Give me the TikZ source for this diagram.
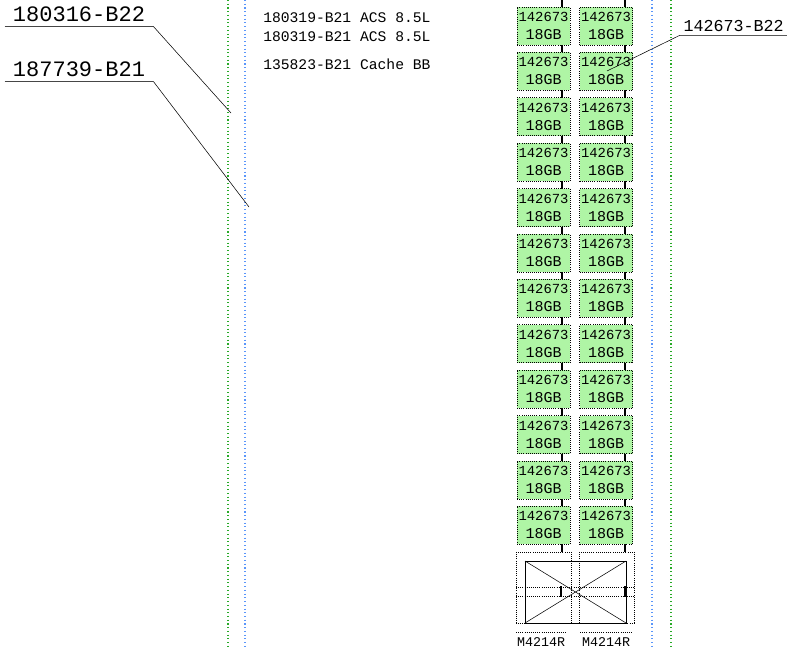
\documentclass[tikz,border=0pt]{standalone}
\usepackage{fontspec}
\setmonofont{Liberation Mono}
\usepackage{tikz}
\usetikzlibrary{positioning}
\definecolor{dimmgreen}{RGB}{175,245,165}
\definecolor{guidegreen}{RGB}{40,170,40}
\definecolor{guideblue}{RGB}{90,150,250}
\definecolor{leadgray}{RGB}{70,70,70}

\tikzset{
  dimm/.style={draw=black, densely dotted, line width=0.6pt, fill=dimmgreen,
    minimum width=39.75pt, minimum height=28.5pt, inner sep=0pt, align=center,
    font=\ttfamily\fontsize{10.4}{13.5}\selectfont},
  bus/.style={line width=1.3pt},
  guide/.style={dotted, line width=0.8pt},
  callout/.style={font=\ttfamily\fontsize{16.5}{16.5}\selectfont, text height=11.3pt,
    text depth=0pt, inner xsep=6pt, inner ysep=3.4pt},
  partline/.style={font=\ttfamily\fontsize{11}{11}\selectfont, anchor=west, inner sep=0pt},
  cpubox/.style={densely dotted, line width=0.6pt},
}
\newcommand{\dimmtxt}{142673\\{\fontsize{11.25}{13.5}\selectfont 18GB}}

\begin{document}
\begin{tikzpicture}[x=0.75pt, y=-0.75pt]
  \useasboundingbox (0,0) rectangle (787,648);

  % Guide lines
  \draw[guide, guidegreen] (228,0) -- (228,648);
  \draw[guide, guideblue] (245,0) -- (245,648);
  \draw[guide, guideblue] (652,0) -- (652,648);
  \draw[guide, guidegreen] (671,0) -- (671,648);

  % Part list
  \node[partline] (p1) at (263,18) {180319-B21 ACS 8.5L};
  \node[partline] (p2) at (263,37) {180319-B21 ACS 8.5L};
  \node[partline] (p3) at (263,64) {135823-B21 Cache BB};

  % Memory buses
  \coordinate (busatop) at (562,0);
  \coordinate (busabot) at (562,552);
  \coordinate (busbtop) at (625,0);
  \coordinate (busbbot) at (625,552);
  \draw[bus] (busatop) -- (busabot);
  \draw[bus] (busbtop) -- (busbbot);

  % DIMM slots
  \node[dimm] (m1a) at (543.5,26) {\dimmtxt};     \node[dimm] (m1b) at (606,26) {\dimmtxt};
  \node[dimm] (m2a) at (543.5,71.4) {\dimmtxt};   \node[dimm] (m2b) at (606,71.4) {\dimmtxt};
  \node[dimm] (m3a) at (543.5,116.8) {\dimmtxt};  \node[dimm] (m3b) at (606,116.8) {\dimmtxt};
  \node[dimm] (m4a) at (543.5,162.2) {\dimmtxt};  \node[dimm] (m4b) at (606,162.2) {\dimmtxt};
  \node[dimm] (m5a) at (543.5,207.6) {\dimmtxt};  \node[dimm] (m5b) at (606,207.6) {\dimmtxt};
  \node[dimm] (m6a) at (543.5,253) {\dimmtxt};    \node[dimm] (m6b) at (606,253) {\dimmtxt};
  \node[dimm] (m7a) at (543.5,298.4) {\dimmtxt};  \node[dimm] (m7b) at (606,298.4) {\dimmtxt};
  \node[dimm] (m8a) at (543.5,343.8) {\dimmtxt};  \node[dimm] (m8b) at (606,343.8) {\dimmtxt};
  \node[dimm] (m9a) at (543.5,389.2) {\dimmtxt};  \node[dimm] (m9b) at (606,389.2) {\dimmtxt};
  \node[dimm] (m10a) at (543.5,434.6) {\dimmtxt}; \node[dimm] (m10b) at (606,434.6) {\dimmtxt};
  \node[dimm] (m11a) at (543.5,480) {\dimmtxt};   \node[dimm] (m11b) at (606,480) {\dimmtxt};
  \node[dimm] (m12a) at (543.5,525.4) {\dimmtxt}; \node[dimm] (m12b) at (606,525.4) {\dimmtxt};

  % CPU sockets
  \draw[cpubox] (516,552) rectangle (571,623);
  \draw[cpubox] (579,552) rectangle (634,623);
  \draw[cpubox] (516,587) -- (634,587);
  \draw[cpubox] (516,596) -- (634,596);
  \draw (525,561) rectangle (626,623);
  \draw (525,561) -- (626,623);
  \draw (525,623) -- (626,561);
  \draw[bus] (561,586) -- (561,597);
  \draw[bus] (625,586) -- (625,597);
  \draw[cpubox] (516,632) -- (566,632);
  \draw[cpubox] (580,632) -- (633,632);
  \node[font=\ttfamily\fontsize{10}{10}\selectfont, inner sep=0pt] (cpua) at (541,642) {M4214R};
  \node[font=\ttfamily\fontsize{10}{10}\selectfont, inner sep=0pt] (cpub) at (606,642) {M4214R};

  % Callouts
  \node[callout] (c1) at (79,14) {180316-B22};
  \coordinate (t1) at (231,113);
  \draw[leadgray, line width=1pt] (c1.south west) -- (c1.south east);
  \draw (c1.south east) -- (t1);

  \node[callout] (c2) at (79,69) {187739-B21};
  \coordinate (t2) at (249,207);
  \draw[leadgray, line width=1pt] (c2.south west) -- (c2.south east);
  \draw (c2.south east) -- (t2);

  \node[callout, font=\ttfamily\fontsize{12.5}{12.5}\selectfont, text height=8.6pt,
    inner xsep=2.6pt, inner ysep=2.5pt] (c3) at (733.5,26) {142673-B22};
  \coordinate (t3) at (607,71);
  \draw (c3.south east) -- (c3.south west) -- (t3);
\end{tikzpicture}
\end{document}
